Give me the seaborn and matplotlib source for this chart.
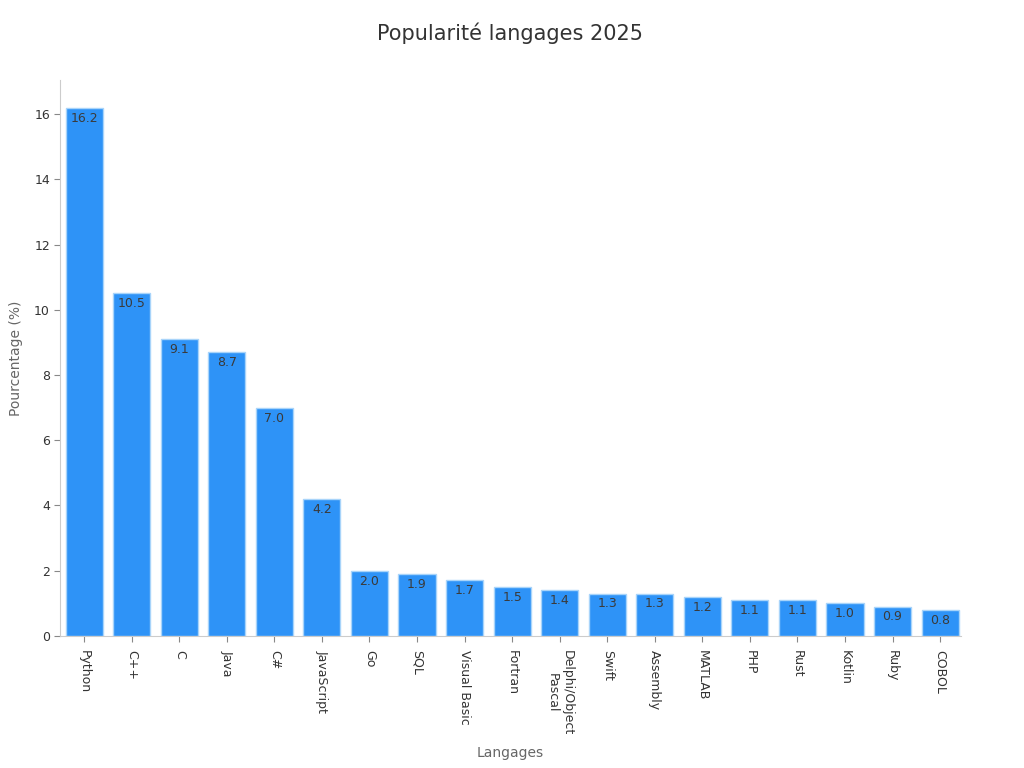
import matplotlib
matplotlib.use('Agg')
import matplotlib.pyplot as plt
import pandas as pd
import seaborn as sns

langages = ['Python', 'C++', 'C', 'Java', 'C#', 'JavaScript', 'Go', 'SQL',
            'Visual Basic', 'Fortran', 'Delphi/Object\nPascal', 'Swift',
            'Assembly', 'MATLAB', 'PHP', 'Rust', 'Kotlin', 'Ruby', 'COBOL']
pourcentages = [16.2, 10.5, 9.1, 8.7, 7.0, 4.2, 2.0, 1.9, 1.7, 1.5, 1.4,
                1.3, 1.3, 1.2, 1.1, 1.1, 1.0, 0.9, 0.8]

df = pd.DataFrame({'Langages': langages, 'Pourcentage': pourcentages})

sns.set_style('white')
plt.rcParams['font.family'] = ['DejaVu Sans']

fig = plt.figure(figsize=(10.24, 7.68), dpi=100)
ax = fig.add_axes([0.059, 0.172, 0.879, 0.724])

sns.barplot(data=df, x='Langages', y='Pourcentage', color='#2E93F7',
            saturation=1, width=0.78, edgecolor='#A8D4FA', linewidth=1, ax=ax)

# valeurs dans le haut des barres
for i, v in enumerate(pourcentages):
    ax.text(i, v - 0.12, f'{v:.1f}', ha='center', va='top', fontsize=9, color='#3a3a3a')

ax.set_ylim(0, 17.05)
ax.set_xlim(-0.5, 18.43)

ax.set_title('Popularité langages 2025', fontsize=15, color='#333333', pad=29)
ax.set_xlabel('Langages', fontsize=10, color='#666666', labelpad=8)
ax.set_ylabel('Pourcentage (%)', fontsize=10, color='#666666', labelpad=8)

ax.tick_params(axis='x', rotation=270, labelsize=9, colors='#333333', length=4,
               color='#888888', pad=6)
ax.tick_params(axis='y', labelsize=9, colors='#333333', length=4, color='#888888', left=True)
ax.tick_params(axis='x', bottom=True)
for lbl in ax.get_xticklabels():
    lbl.set_va('top')
    lbl.set_ha('center')

sns.despine(ax=ax)
for s in ['left', 'bottom']:
    ax.spines[s].set_color('#CCCCCC')

fig.savefig('out.png', dpi=100)
